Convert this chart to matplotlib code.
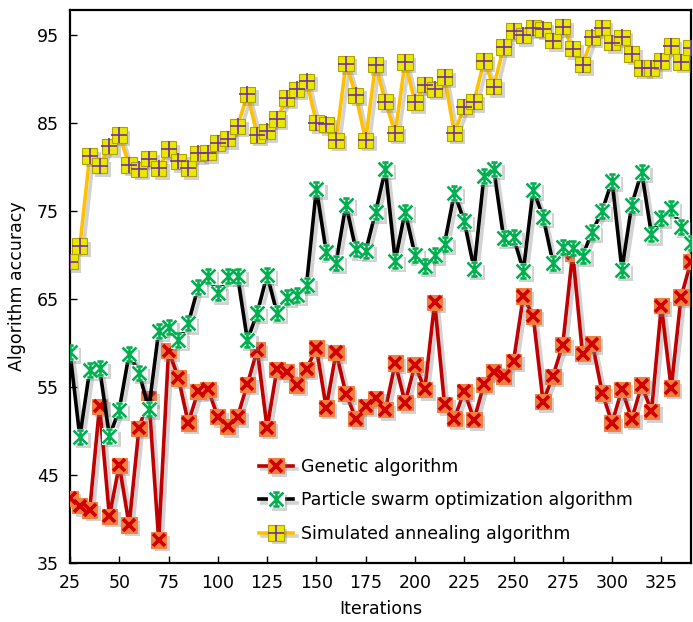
import matplotlib
matplotlib.use("Agg")
import matplotlib.pyplot as plt
import matplotlib.patheffects as pe
from matplotlib.path import Path
import numpy as np

# 横軸: 反復回数
iterations = list(range(25, 345, 5))

# 各アルゴリズムの精度
genetic = [42.35, 41.5, 41.0, 52.8, 40.3, 46.1, 39.3, 50.3, 53.7, 37.6,
           59.1, 56.0, 50.9, 54.5, 54.7, 51.6, 50.5, 51.6, 55.3, 59.2,
           50.3, 57.0, 56.7, 55.2, 57.0, 59.4, 52.6, 58.9, 54.2, 51.4,
           52.8, 53.7, 52.4, 57.7, 53.2, 57.5, 54.7, 64.6, 53.0, 51.4,
           54.5, 51.25, 55.3, 56.7, 56.2, 57.9, 65.3, 63.0, 53.3, 56.2,
           59.8, 70.2, 58.75, 59.9, 54.3, 50.9, 54.7, 51.3, 55.2, 52.2,
           64.2, 54.85, 65.2, 69.2]
pso = [58.9, 49.3, 56.9, 57.1, 49.4, 52.4, 58.75, 56.6, 52.5, 61.3,
       61.8, 60.3, 62.2, 66.3, 67.6, 65.6, 67.6, 67.6, 60.3, 63.4,
       67.7, 63.4, 65.2, 65.4, 66.6, 77.5, 70.3, 69.1, 75.7, 70.6,
       70.4, 74.8, 79.7, 69.3, 74.9, 70.0, 68.75, 70.0, 71.25, 77.0,
       73.8, 68.4, 78.9, 79.7, 71.9, 72.0, 68.2, 77.4, 74.3, 69.1,
       70.9, 70.8, 69.9, 72.6, 75.0, 78.4, 68.3, 75.7, 79.4, 72.3,
       74.2, 75.3, 73.15, 71.3]
annealing = [69.2, 71.0, 81.2, 80.1, 82.3, 83.6, 80.2, 79.7, 80.9, 79.8,
             82.0, 80.6, 79.8, 81.5, 81.6, 82.7, 83.2, 84.6, 88.2, 83.6,
             84.0, 85.4, 87.8, 88.8, 89.7, 85.0, 84.8, 83.0, 91.7, 88.1,
             83.0, 91.6, 87.4, 83.8, 91.9, 87.3, 89.3, 88.8, 90.2, 83.8,
             86.8, 87.4, 92.0, 89.1, 93.6, 95.4, 94.9, 95.8, 95.6, 94.3,
             95.9, 93.4, 91.6, 94.7, 95.8, 94.1, 94.7, 92.8, 91.2, 91.2,
             92.0, 93.7, 91.9, 93.5]
labels = ["Genetic algorithm",
          "Particle swarm optimization algorithm",
          "Simulated annealing algorithm"]

plt.rcParams['font.family'] = ['DejaVu Sans']
plt.rcParams['font.size'] = 12.5

# Excel風の星形マーカー (X + 上下の短い横棒)
star_path = Path(
    [(-1, -1), (1, 1), (-1, 1), (1, -1), (0, -0.8), (0, 0.8),
     (-0.45, 1), (0.45, 1), (-0.45, -1), (0.45, -1)],
    [Path.MOVETO, Path.LINETO] * 5)

line_shadow = [pe.SimpleLineShadow(offset=(2.5, -2.5), shadow_color='gray', alpha=0.35),
               pe.Normal()]
patch_shadow = [pe.SimplePatchShadow(offset=(2.5, -2.5), shadow_rgbFace='gray', alpha=0.35),
                pe.Normal()]

fig = plt.figure(figsize=(6.93, 6.22), dpi=100)
ax = fig.add_axes((0.101, 0.095, 0.896, 0.889))

series = [
    # (値, 線色, 背景色, 背景枠, 記号, 記号色, 記号サイズ, 記号線幅)
    (genetic, '#C00000', '#F08040', '#F08040', 'x', '#D00000', 9, 2.6),
    (pso, 'black', 'white', 'white', star_path, '#00B050', 10, 1.9),
    (annealing, '#FFC000', '#E8E800', '#B0A000', '+', '#7030A0', 11, 1.2),
]

handles = []
for i, (vals, lc, fc, ec, glyph, gc, gs, gw) in enumerate(series):
    z = 2 + i * 3
    l1, = ax.plot(iterations, vals, color=lc, lw=2.6, zorder=z, path_effects=line_shadow)
    l2, = ax.plot(iterations, vals, ls='none', marker='s', ms=11, mfc=fc, mec=ec, mew=0.8,
                  zorder=z + 1, path_effects=patch_shadow)
    l3, = ax.plot(iterations, vals, ls='none', marker=glyph, ms=gs, mec=gc, mfc='none',
                  mew=gw, zorder=z + 2)
    handles.append((l1, l2, l3))

ax.set_xlim(25, 340)
ax.set_ylim(35, 97.8)
ax.set_xticks(np.arange(25, 326, 25))
ax.set_yticks(np.arange(35, 96, 10))
ax.tick_params(direction='in', length=5, width=1, pad=8, labelsize=12.5)
for s in ax.spines.values():
    s.set_linewidth(1.6)

ax.set_xlabel("Iterations", fontsize=12.5, labelpad=6)
ax.set_ylabel("Algorithm accuracy", fontsize=12.5, labelpad=8)

ax.legend(handles, labels, loc='upper left', bbox_to_anchor=(0.304, 0.19),
          frameon=False, borderpad=0, borderaxespad=0, handlelength=2.0,
          handletextpad=0.45, labelspacing=0.9, fontsize=12.5)

fig.savefig("out.png", dpi=100)
